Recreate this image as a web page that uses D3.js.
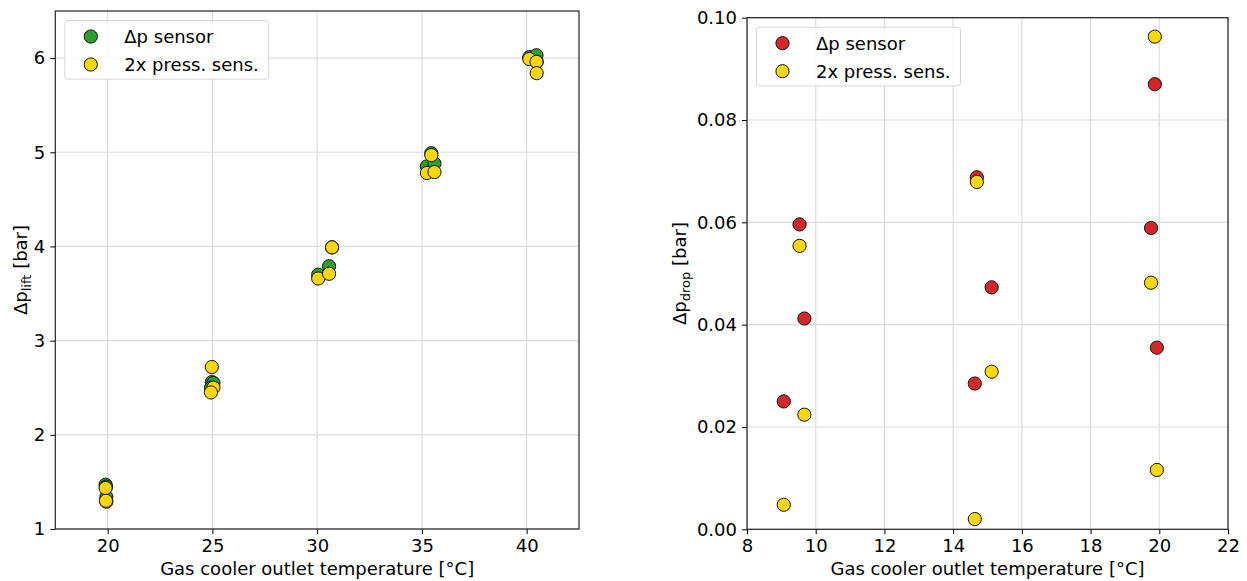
<!DOCTYPE html>
<html>
<head>
<meta charset="utf-8">
<script src="https://cdn.jsdelivr.net/npm/d3@7"></script>
<style>
  body { margin: 0; background: #fff; }
  text { font-family: "DejaVu Sans", sans-serif; }
</style>
</head>
<body>
<svg id="chart" width="1247" height="581"></svg>
<script>
// left panel: pressure lift vs gas cooler outlet temperature
var liftTemp   = [19.90, 19.94, 19.92, 24.97, 25.05, 24.93, 30.05, 30.57, 30.71, 35.24, 35.45, 35.60, 40.13, 40.47, 40.48];
var liftSensor = [1.47, 1.34, 1.45, 2.56, 2.55, 2.50, 3.70, 3.79, 3.99, 4.85, 4.99, 4.88, 6.01, 6.03, 5.96];
var liftPress  = [1.435, 1.29, 1.30, 2.72, 2.50, 2.45, 3.66, 3.71, 3.99, 4.78, 4.97, 4.79, 5.99, 5.96, 5.84];
var liftXTicks = [20, 25, 30, 35, 40];
var liftYTicks = [1, 2, 3, 4, 5, 6];

// right panel: pressure drop vs gas cooler outlet temperature
var dropTemp   = [9.07, 9.53, 9.67, 14.63, 14.69, 15.12, 19.76, 19.87, 19.93];
var dropSensor = [0.0250, 0.0596, 0.0412, 0.0285, 0.0688, 0.0473, 0.0589, 0.0870, 0.0355];
var dropPress  = [0.0048, 0.0554, 0.0224, 0.0020, 0.0679, 0.0308, 0.0482, 0.0963, 0.0116];
var dropXTicks = [8, 10, 12, 14, 16, 18, 20, 22];
var dropYTicks = [0, 0.02, 0.04, 0.06, 0.08, 0.10];

var seriesNames = ["\u0394p sensor", "2x press. sens."];

var svg = d3.select("#chart");

function drawPanel(cfg) {
  var x = d3.scaleLinear().domain(cfg.xDomain).range([cfg.left, cfg.right]);
  var y = d3.scaleLinear().domain(cfg.yDomain).range([cfg.bottom, cfg.top]);
  var g = svg.append("g");

  // grid
  g.selectAll("line.vgrid").data(cfg.xTicks).enter().append("line")
    .attr("x1", d => x(d)).attr("x2", d => x(d))
    .attr("y1", cfg.top).attr("y2", cfg.bottom)
    .attr("stroke", "#dcdcdc").attr("stroke-width", 1.2);
  g.selectAll("line.hgrid").data(cfg.yTicks).enter().append("line")
    .attr("x1", cfg.left).attr("x2", cfg.right)
    .attr("y1", d => y(d)).attr("y2", d => y(d))
    .attr("stroke", "#dcdcdc").attr("stroke-width", 1.2);

  // points, first series underneath
  var s1 = cfg.xs.map((t, i) => [t, cfg.s1[i]]);
  var s2 = cfg.xs.map((t, i) => [t, cfg.s2[i]]);
  g.selectAll("circle.s1").data(s1).enter().append("circle")
    .attr("cx", d => x(d[0])).attr("cy", d => y(d[1])).attr("r", 6.6)
    .attr("fill", cfg.color1).attr("stroke", "#111").attr("stroke-width", 1);
  g.selectAll("circle.s2").data(s2).enter().append("circle")
    .attr("cx", d => x(d[0])).attr("cy", d => y(d[1])).attr("r", 6.6)
    .attr("fill", "#ffd700").attr("stroke", "#111").attr("stroke-width", 1);

  // axes
  var xAxis = d3.axisBottom(x).tickValues(cfg.xTicks).tickSizeOuter(0).tickSize(5).tickPadding(5);
  var yAxis = d3.axisLeft(y).tickValues(cfg.yTicks).tickFormat(cfg.yFormat).tickSizeOuter(0).tickSize(5).tickPadding(5);
  var xa = g.append("g").attr("transform", "translate(0," + cfg.bottom + ")").call(xAxis);
  var ya = g.append("g").attr("transform", "translate(" + cfg.left + ",0)").call(yAxis);
  [xa, ya].forEach(function(a) {
    a.select(".domain").remove();
    a.selectAll("text").attr("font-size", 18).attr("fill", "#000").style("font-family", "DejaVu Sans");
    a.selectAll("line").attr("stroke", "#000");
  });

  // frame
  g.append("rect")
    .attr("x", cfg.left).attr("y", cfg.top)
    .attr("width", cfg.right - cfg.left).attr("height", cfg.bottom - cfg.top)
    .attr("fill", "none").attr("stroke", "#222").attr("stroke-width", 1.2);

  // labels
  g.append("text")
    .attr("x", (cfg.left + cfg.right) / 2).attr("y", 575)
    .attr("text-anchor", "middle").attr("font-size", 18)
    .text("Gas cooler outlet temperature [\u00b0C]");

  var yl = g.append("text")
    .attr("transform", "translate(" + cfg.yLabelX + "," + ((cfg.top + cfg.bottom) / 2) + ") rotate(-90)")
    .attr("text-anchor", "middle").attr("font-size", 18);
  yl.append("tspan").text("\u0394p");
  yl.append("tspan").attr("font-size", 13).attr("dy", 4).text(cfg.sub);
  yl.append("tspan").attr("dy", -4).text(" [bar]");

  // legend
  var lx = cfg.left + 9.5, ly = cfg.top + 9.5;
  var leg = g.append("g");
  leg.append("rect")
    .attr("x", lx).attr("y", ly).attr("width", 204).attr("height", 58.7)
    .attr("rx", 3).attr("fill", "#fff").attr("fill-opacity", 0.85)
    .attr("stroke", "#d6d6d6").attr("stroke-width", 1);
  var colors = [cfg.color1, "#ffd700"];
  leg.selectAll("circle").data(seriesNames).enter().append("circle")
    .attr("cx", lx + 26).attr("cy", (d, i) => ly + 16 + i * 28)
    .attr("r", 6.6).attr("fill", (d, i) => colors[i])
    .attr("stroke", "#111").attr("stroke-width", 1);
  leg.selectAll("text").data(seriesNames).enter().append("text")
    .attr("x", lx + 59.5).attr("y", (d, i) => ly + 16 + i * 28)
    .attr("dy", "0.35em").attr("font-size", 18)
    .text(d => d);
}

drawPanel({
  left: 55.3, right: 579, top: 11, bottom: 529,
  xDomain: [17.5, 42.5], yDomain: [1, 6.5],
  xTicks: liftXTicks, yTicks: liftYTicks, yFormat: d3.format("d"),
  xs: liftTemp, s1: liftSensor, s2: liftPress,
  color1: "#2ca02c", sub: "lift", yLabelX: 26.5
});

drawPanel({
  left: 747, right: 1228, top: 17.7, bottom: 529.3,
  xDomain: [8, 22], yDomain: [0, 0.10],
  xTicks: dropXTicks, yTicks: dropYTicks, yFormat: d3.format(".2f"),
  xs: dropTemp, s1: dropSensor, s2: dropPress,
  color1: "#d62728", sub: "drop", yLabelX: 686
});
</script>
</body>
</html>
